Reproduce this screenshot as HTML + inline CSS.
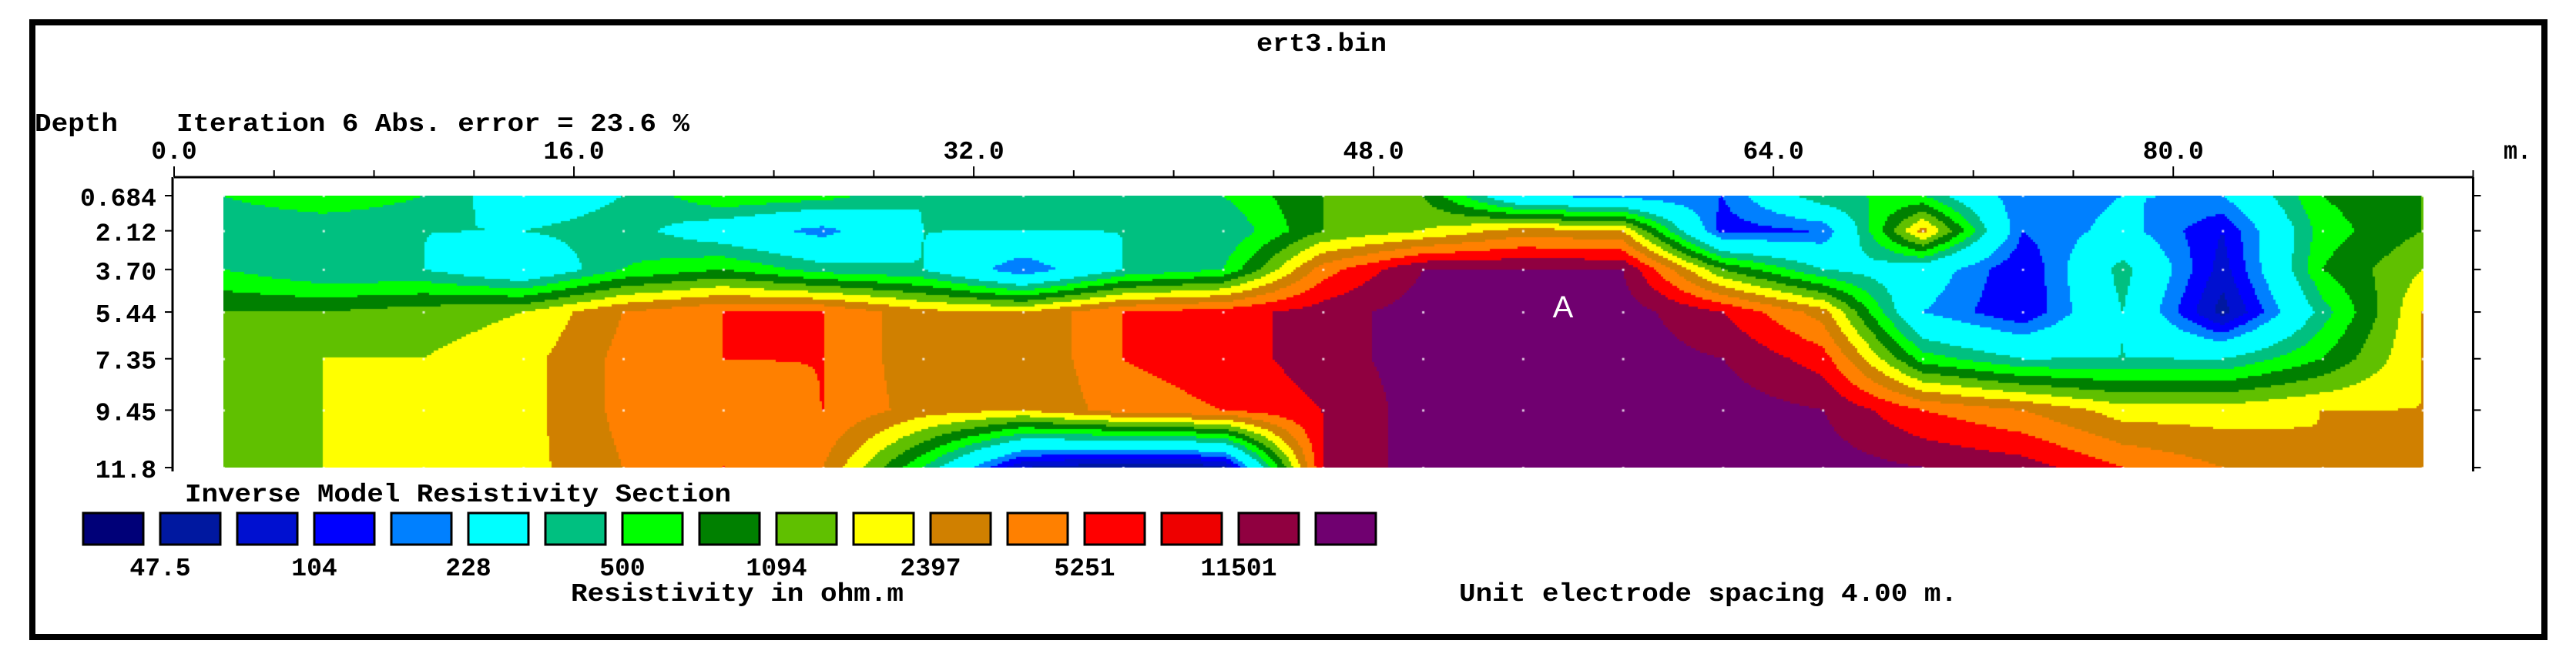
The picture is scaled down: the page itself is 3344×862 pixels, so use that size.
<!DOCTYPE html>
<html><head><meta charset="utf-8">
<style>
html,body{margin:0;padding:0;background:#fff;}
#wrap{position:relative;width:3344px;height:862px;overflow:hidden;background:#fff;}
svg text{font-family:"Liberation Mono",monospace;font-weight:bold;fill:#000;}
#sec{position:absolute;left:290px;top:254px;}
</style></head>
<body>
<div id="wrap">
<svg id="svg" width="3344" height="862" style="position:absolute;left:0;top:0">
  <rect x="42" y="29" width="3261" height="798" fill="none" stroke="#000" stroke-width="8"/>
  <text x="1631" y="66" font-size="33" textLength="169" lengthAdjust="spacingAndGlyphs">ert3.bin</text>
  <text x="45" y="170" font-size="33" textLength="108" lengthAdjust="spacingAndGlyphs">Depth</text>
  <text x="229" y="170" font-size="33" textLength="666" lengthAdjust="spacingAndGlyphs">Iteration 6 Abs. error = 23.6 %</text>
  <text x="3250" y="206" font-size="33" textLength="36" lengthAdjust="spacingAndGlyphs">m.</text>
  <g id="xaxis"></g>
  <g id="yaxis"></g>
  <text x="240" y="651" font-size="33" textLength="709" lengthAdjust="spacingAndGlyphs">Inverse Model Resistivity Section</text>
  <g id="legend"></g>
  <text x="741" y="780" font-size="33" textLength="432" lengthAdjust="spacingAndGlyphs">Resistivity in ohm.m</text>
  <text x="1894" y="780" font-size="33" textLength="647" lengthAdjust="spacingAndGlyphs">Unit electrode spacing 4.00 m.</text>
</svg>
<canvas id="sec" width="2856" height="353"></canvas>
<svg width="3344" height="862" style="position:absolute;left:0;top:0;pointer-events:none">
  <text x="2029" y="412" font-size="40" style="fill:#fff;font-weight:normal;font-family:'Liberation Sans',sans-serif" text-anchor="middle">A</text>
</svg>
</div>
<script>
const xTicks = [0, 16, 32, 48, 64, 80];
const xTickLabels = ["0.0", "16.0", "32.0", "48.0", "64.0", "80.0"];
const depthTicks = [0.684, 2.12, 3.70, 5.44, 7.35, 9.45, 11.8];
const depthLabels = ["0.684", "2.12", "3.70", "5.44", "7.35", "9.45", "11.8"];
const legendColors = ["#000078","#0018a0","#0010d0","#0000ff","#0080ff","#00ffff","#00c080","#00ff00","#008000","#60c000","#ffff00","#d08000","#ff8000","#ff0000","#ee0000","#900040","#700070"];
const legendLabels = ["47.5","104","228","500","1094","2397","5251","11501"];
// model level -> legend colour index
const levelToColor = [0,1,2,3,4,5,5,6,7,8,9,10,11,12,13,15,16];
const colX = [2,6,10,14,18,22,26,30,34,38,42,46,50,54,58,62,66,70,74,78,82,86,90];
// level (0..16) per depth row, per column
const row0 = [8,9,8,6,7,9,8.5,7,7,7,8,10,10,5,4.5,4,8,8,4,5,5,9,10];
const row1 = [7,7,7,7,7.5,6,4.5,7,7,7,7,10,11,12.5,12,3.5,4,12.5,4,5.5,3,8.5,10];
const row2 = [8,7,7,5.5,8,9,7.5,7,4,7,8,13.5,16,16,16,10,7,6,3,7.5,2.5,9,11];
const row3 = [10,10,10.5,11,13,14,14,12.3,12,14,14.5,15.5,16.5,16.5,16.5,15,12.5,5,3,7,1.5,7.5,12];
const row4 = [10,11,11,11.6,13.3,14,14,12.3,12,14,14.5,15.5,16.5,16.5,16.5,16,14.5,8.5,7,7,7,9,12];
const row5 = [10,11,11,11.6,13.3,13.5,14,12.5,12,13.5,14,15,16.5,16.5,16.5,16.5,16,14,13,11.5,11.5,12,12];
const row6 = [10,11,11,11.6,13,14,13,8,2,1,1.5,15,16.5,16.5,16.5,16.5,16.5,16,15.5,14,13,12,12];
const grid = [row0,row1,row2,row3,row4,row5,row6];

const NS = "http://www.w3.org/2000/svg";
const X0 = 226, PXM = 32.44, Y0 = 254, PYM = 31.76, D0 = 0.684;
const xs = m => X0 + m * PXM;
const ys = d => Y0 + (d - D0) * PYM;
function mk(tag, attrs, parent){ const e=document.createElementNS(NS,tag); for(const k in attrs) e.setAttribute(k,attrs[k]); parent.appendChild(e); return e; }

const xa = document.getElementById('xaxis');
const axl = mk('line',{x1:xs(0),y1:230,x2:xs(92),y2:230,stroke:'#000','stroke-width':3},xa);


for(let m=0;m<=92;m+=4){
  const major = m%16===0;
  const t = mk('line',{x1:xs(m),y1:230,x2:xs(m),y2:major?216:221,stroke:'#000','stroke-width':2},xa);
  
  
}
xTicks.forEach((v,i)=>{
  const t = mk('text',{x:xs(v),y:206,'font-size':33,'text-anchor':'middle'},xa);
  t.textContent = xTickLabels[i];
  
  
});
const ya = document.getElementById('yaxis');
[224, xs(92)].forEach((x,side)=>{
  const l = mk('line',{x1:x,y1:230,x2:x,y2:ys(11.8)+5,stroke:'#000','stroke-width':3},ya);
  
  
  depthTicks.forEach(d=>{
    const t = mk('line',{x1:side?x:x-10,y1:ys(d),x2:side?x+10:x,y2:ys(d),stroke:'#000','stroke-width':2},ya);
    
    
  });
});
depthTicks.forEach((d,i)=>{
  const t = mk('text',{x:203,y:ys(d)+13,'font-size':33,'text-anchor':'end'},ya);
  t.textContent = depthLabels[i];
  
  
});
const lg = document.getElementById('legend');
legendColors.forEach((c,i)=>{
  const r = mk('rect',{x:108+i*100,y:666,width:78,height:41,fill:c,stroke:'#000','stroke-width':3},lg);
  
  
});
legendLabels.forEach((s,i)=>{
  const t = mk('text',{x:208+i*200,y:747,'font-size':33,'text-anchor':'middle'},lg);
  t.textContent = s;
  
  
});

const cv = document.getElementById('sec');
const ctx = cv.getContext('2d');
const secLeft = xs(2), secTop = ys(D0);
function interp(m,d){
  let ci = 0; while(ci < colX.length-2 && m > colX[ci+1]) ci++;
  let ri = 0; while(ri < depthTicks.length-2 && d > depthTicks[ri+1]) ri++;
  const tx = Math.min(1,Math.max(0,(m-colX[ci])/(colX[ci+1]-colX[ci])));
  const ty = Math.min(1,Math.max(0,(d-depthTicks[ri])/(depthTicks[ri+1]-depthTicks[ri])));
  const a=grid[ri][ci], b=grid[ri][ci+1], c=grid[ri+1][ci], e=grid[ri+1][ci+1];
  return a*(1-tx)*(1-ty)+b*tx*(1-ty)+c*(1-tx)*ty+e*tx*ty;
}
const S = 3;
for(let py=0; py<cv.height; py+=S){
  for(let px=0; px<cv.width; px+=S){
    const m = (secLeft + px + S/2 - X0)/PXM;
    const d = D0 + (py + S/2)/PYM;
    let k = Math.floor(interp(m,d) + 0.01);
    k = Math.max(0, Math.min(16, k));
    ctx.fillStyle = legendColors[levelToColor[k]];
    ctx.fillRect(px,py,S,S);
  }
}
ctx.fillStyle = 'rgba(255,255,255,0.8)';
colX.forEach(m=>depthTicks.forEach(d=>{
  ctx.fillRect(xs(m)-secLeft-1, ys(d)-secTop-1, 3, 3);
}));
</script>
</body></html>
